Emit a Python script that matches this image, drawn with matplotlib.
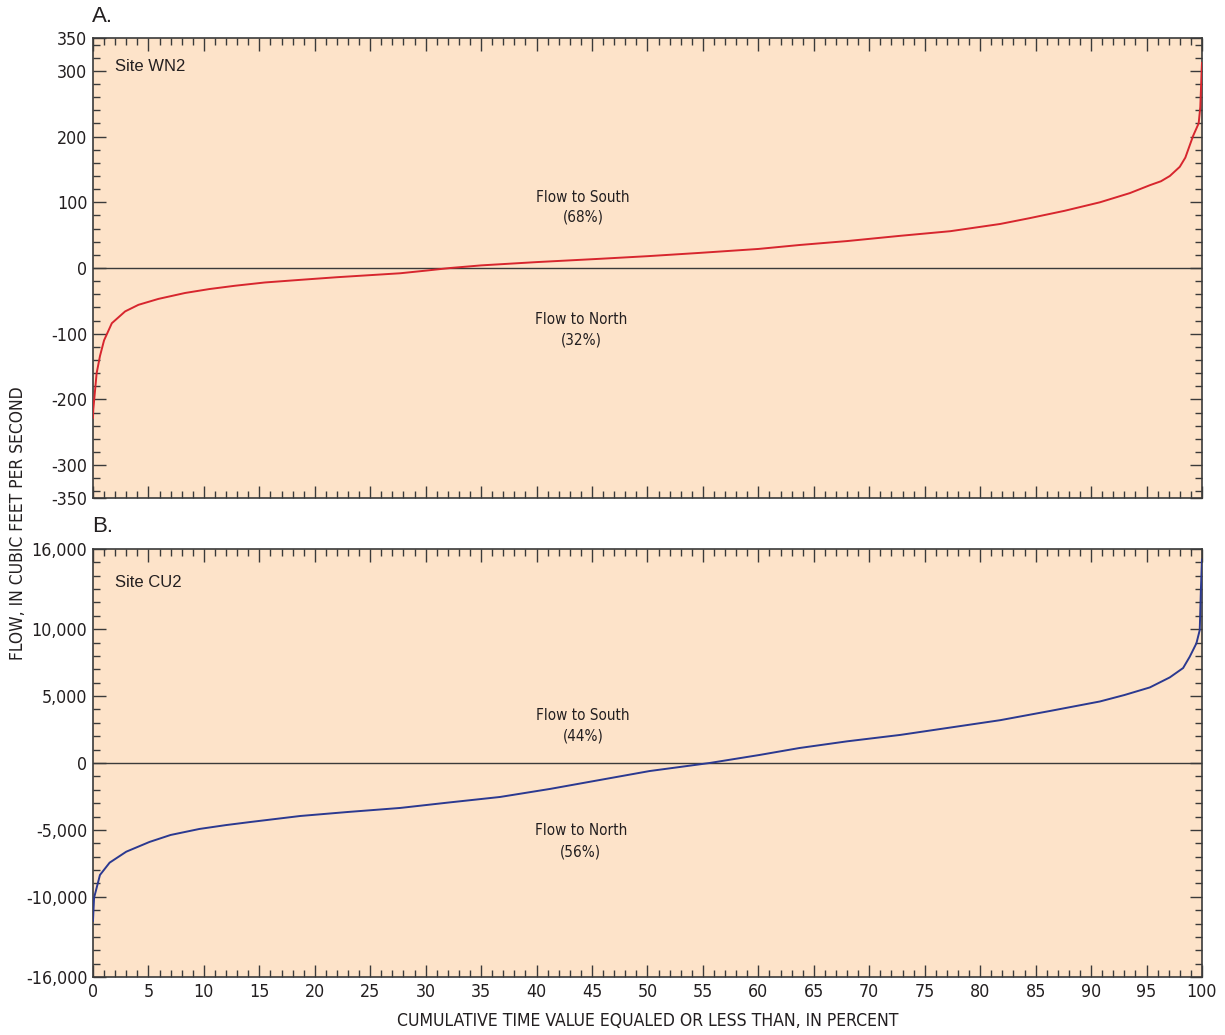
import matplotlib
matplotlib.use('Agg')
import matplotlib.pyplot as plt
from matplotlib.ticker import MultipleLocator, FixedLocator, FuncFormatter

plt.rcParams['axes.unicode_minus'] = False

NARROW = ['DejaVu Sans']
REGULAR = ['Liberation Sans', 'DejaVu Sans']
TEXT = '#231f20'
BG = '#fde3c9'

# Site WN2 flow-duration curve (percent, cfs)
wn2_pct = [0, 0.03, 0.33, 0.63, 1.0, 1.7, 2.3, 2.9, 4.1, 5.9, 8.3, 10.5, 12.8, 15.5,
           18.7, 22, 27.7, 30, 32.2, 35, 40, 45.7, 50, 54.7, 60, 63.7, 68, 72.8,
           77.3, 81.8, 84.5, 87.6, 90.8, 93.5, 95.3, 96.3, 97.1, 98.0, 98.5, 99.2,
           99.7, 99.85, 99.97, 100]
wn2_flow = [-228, -215, -160, -134, -110, -84, -75, -66, -56, -47, -38, -32, -27, -22,
            -18, -14, -8, -4, 0, 4, 9, 14, 18, 23, 29, 35, 41, 49,
            56, 67, 76, 87, 100, 114, 126, 132, 140, 154, 168, 201,
            220, 245, 300, 312]

# Site CU2 flow-duration curve (percent, cfs)
cu2_pct = [0, 0.05, 0.1, 0.63, 1.5, 3.0, 5.1, 7.0, 9.6, 12, 14.2, 18.7, 23, 27.7,
           32, 36.7, 41.2, 45.7, 50.2, 55.6, 60.1, 63.7, 68, 72.8, 77.3, 81.8,
           86.3, 90.8, 93, 95.3, 97.1, 98.3, 98.9, 99.5, 99.8, 99.9, 100]
cu2_flow = [-11800, -10900, -10070, -8370, -7450, -6630, -5900, -5380, -4930, -4640,
            -4410, -3960, -3660, -3360, -2960, -2540, -1940, -1270, -600, 0, 600,
            1120, 1620, 2100, 2650, 3200, 3890, 4600, 5080, 5650, 6400, 7100, 7950,
            8950, 9940, 12900, 15200]

wn2_yticks = [-350, -300, -200, -100, 0, 100, 200, 300, 350]
cu2_yticks = [-16000, -10000, -5000, 0, 5000, 10000, 16000]

fig = plt.figure(figsize=(12.25, 10.35), dpi=100)
ax_a = fig.add_axes([0.0759, 0.5188, 0.9053, 0.4445])
ax_b = fig.add_axes([0.0759, 0.0560, 0.9053, 0.4136])


def style(ax, yticks, yminor, ylim, show_x):
    ax.set_facecolor(BG)
    ax.set_xlim(0, 100)
    ax.set_ylim(*ylim)
    ax.xaxis.set_major_locator(MultipleLocator(5))
    ax.xaxis.set_minor_locator(MultipleLocator(1))
    ax.yaxis.set_major_locator(FixedLocator(yticks))
    ax.yaxis.set_minor_locator(MultipleLocator(yminor))
    ax.yaxis.set_major_formatter(FuncFormatter(lambda v, p: f'{int(v):,}'))
    ax.tick_params(which='both', direction='in', top=True, right=True,
                   color='#3a3a3a', width=1.0, labelcolor=TEXT, labelsize=12.8, pad=4)
    ax.tick_params(which='major', length=9)
    ax.tick_params(which='minor', length=5)
    ax.tick_params(axis='x', labelbottom=show_x)
    for lab in ax.get_xticklabels() + ax.get_yticklabels():
        lab.set_family(NARROW)
        lab.set_stretch('condensed')
    for s in ax.spines.values():
        s.set_color('#3a3a3a')
        s.set_linewidth(1.2)
    ax.axhline(0, color='#3a3a3a', lw=1.0)


style(ax_a, wn2_yticks, 20, (-350, 350), False)
style(ax_b, cu2_yticks, 1000, (-16000, 16000), True)

ax_a.plot(wn2_pct, wn2_flow, color='#d7262e', lw=1.4, zorder=3)
ax_b.plot(cu2_pct, cu2_flow, color='#2b3990', lw=1.4, zorder=3)

ax_a.text(2.0, 307, 'Site WN2', family=REGULAR, fontsize=12, color=TEXT, va='center')
ax_b.text(2.0, 13530, 'Site CU2', family=REGULAR, fontsize=12, color=TEXT, va='center')

ann = dict(family=NARROW, stretch='condensed', fontsize=11, color=TEXT, ha='center', va='center')
ax_a.text(44.2, 108, 'Flow to South', **ann)
ax_a.text(44.2, 77, '(68%)', **ann)
ax_a.text(44.0, -79, 'Flow to North', **ann)
ax_a.text(44.0, -110, '(32%)', **ann)

ax_b.text(44.2, 3514, 'Flow to South', **ann)
ax_b.text(44.2, 2020, '(44%)', **ann)
ax_b.text(44.0, -5080, 'Flow to North', **ann)
ax_b.text(44.0, -6650, '(56%)', **ann)

fig.text(92 / 1225, 1 - 16 / 1035, 'A.', family=REGULAR, fontsize=16, color=TEXT, va='center')
fig.text(92 / 1225, 1 - 527 / 1035, 'B.', family=REGULAR, fontsize=16, color=TEXT, va='center')

fig.text(18 / 1225, 1 - 523 / 1035, 'FLOW, IN CUBIC FEET PER SECOND', family=NARROW,
         stretch='condensed', fontsize=12.5, color=TEXT, rotation=90, ha='center', va='center')
fig.text(648 / 1225, 1 - 1021 / 1035, 'CUMULATIVE TIME VALUE EQUALED OR LESS THAN, IN PERCENT',
         family=NARROW, stretch='condensed', fontsize=12.6, color=TEXT, ha='center', va='center')

fig.savefig('out.png', dpi=100, facecolor='white')
